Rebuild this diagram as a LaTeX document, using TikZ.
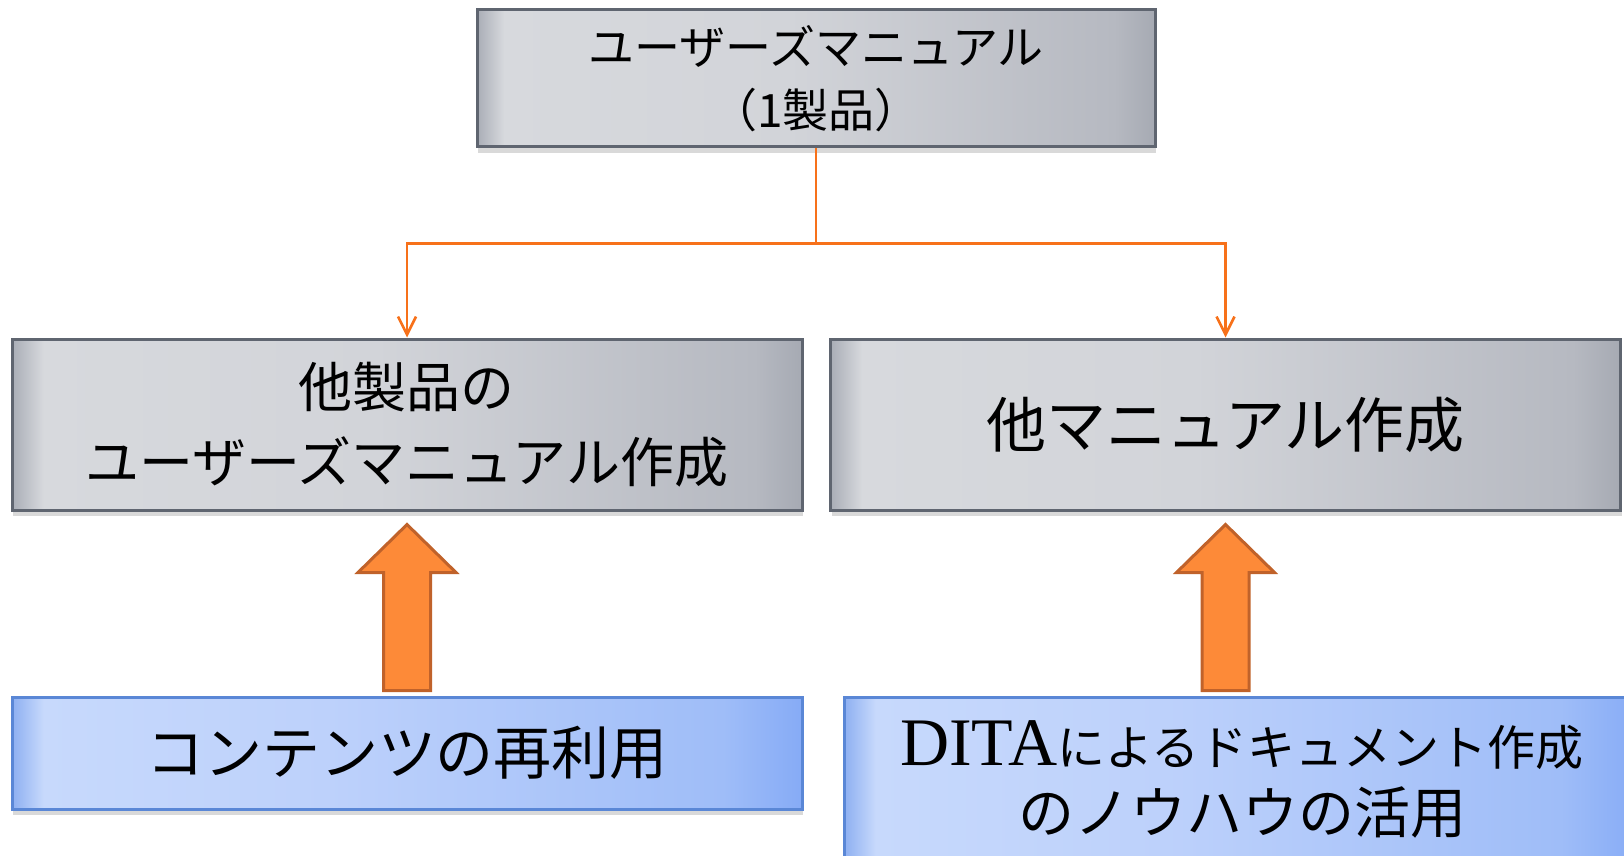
\documentclass[tikz,border=0pt]{standalone}
\usepackage{fontspec}
\setmainfont{Liberation Serif}
\newfontfamily\cjk{Noto Sans CJK JP}
\usetikzlibrary{arrows.meta,shadows,calc}
\definecolor{grayA}{HTML}{A9ADB6}
\definecolor{grayB}{HTML}{D7D9DD}
\definecolor{grayC}{HTML}{D2D4D9}
\definecolor{grayD}{HTML}{B6B9C1}
\definecolor{grayE}{HTML}{A6AAB3}
\definecolor{blueA}{HTML}{8DAFF1}
\definecolor{blueB}{HTML}{C7D9FC}
\definecolor{blueC}{HTML}{BDD1FB}
\definecolor{blueD}{HTML}{9FBDF8}
\definecolor{blueE}{HTML}{86ABF6}
\definecolor{boxline}{HTML}{5F6570}
\definecolor{idealine}{HTML}{5A87D6}
\definecolor{linkorange}{HTML}{F7711A}
\definecolor{arrowfill}{HTML}{FD8A38}
\definecolor{arrowline}{HTML}{C0622A}
\pgfdeclarehorizontalshading{grayshade}{100bp}{color(0bp)=(grayA); color(25bp)=(grayA); color(27bp)=(grayB); color(48bp)=(grayC); color(72bp)=(grayD); color(75bp)=(grayE); color(100bp)=(grayE)}
\pgfdeclarehorizontalshading{blueshade}{100bp}{color(0bp)=(blueA); color(25bp)=(blueA); color(27bp)=(blueB); color(45bp)=(blueC); color(70bp)=(blueD); color(75bp)=(blueE); color(100bp)=(blueE)}
\tikzset{
  manualbox/.style={draw=boxline, line width=1.5pt, shade, shading=grayshade, align=center,
    inner sep=0pt, drop shadow={opacity=0.3, shadow xshift=0.5pt, shadow yshift=-3pt}},
  ideabox/.style={draw=idealine, line width=1.5pt, shade, shading=blueshade, align=center,
    inner sep=0pt, drop shadow={opacity=0.3, shadow xshift=0.5pt, shadow yshift=-3pt}},
  link/.style={draw=linkorange, line width=1.3pt, -{Straight Barb[length=9pt,width=9pt]}},
  bigarrow/.style={fill=arrowfill, draw=arrowline, line width=1.5pt, line join=miter}
}
\begin{document}
\begin{tikzpicture}[x=0.5pt,y=-0.5pt]
\clip (0,0) rectangle (1624,856);
\node[manualbox, minimum width=339pt, minimum height=68.5pt, font=\cjk\fontsize{23}{31.5}\selectfont] (manual) at (816,78.5) {ユーザーズマニュアル\\（1製品）};
\node[manualbox, minimum width=395pt, minimum height=85.5pt, font=\cjk\fontsize{27}{37.5}\selectfont] (otherprod) at (407,424.5) {他製品の\\ユーザーズマニュアル作成};
\node[manualbox, minimum width=395pt, minimum height=85.5pt, font=\cjk\fontsize{30}{36}\selectfont] (othermanual) at (1225.5,424.5) {他マニュアル作成};
\node[ideabox, minimum width=395pt, minimum height=56pt, font=\cjk\fontsize{29}{35}\selectfont] (reuse) at (407,753) {コンテンツの再利用};
\node[ideabox, minimum width=398pt, minimum height=82.5pt, font=\cjk\fontsize{24}{34}\selectfont] (knowhow) at (1242,779.5) {{\rmfamily\fontsize{34}{34}\selectfont DITA}によるドキュメント作成\\{\fontsize{28}{34}\selectfont のノウハウの活用}};
\draw[link] (manual.south) -- ++(0,95) -| (otherprod.north);
\draw[link] (manual.south) -- ++(0,95) -| (othermanual.north);
\foreach \src/\dst in {reuse/otherprod,knowhow/othermanual}
{
  \draw[bigarrow] ($(\dst.south)+(0,13)$) -- ($(\dst.south)+(49,61)$) -- ($(\dst.south)+(23.5,61)$)
    -- ($(\dst.south |- \src.north)+(23.5,-5)$) -- ($(\dst.south |- \src.north)+(-23.5,-5)$)
    -- ($(\dst.south)+(-23.5,61)$) -- ($(\dst.south)+(-49,61)$) -- cycle;
}
\end{tikzpicture}
\end{document}
